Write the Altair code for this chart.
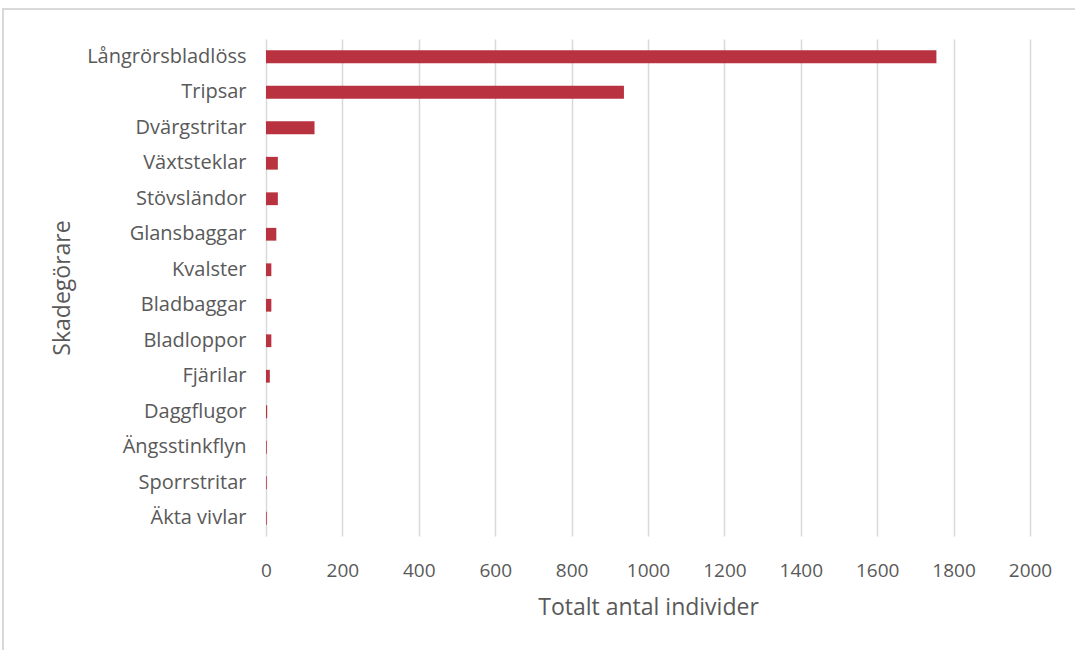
import altair as alt
import pandas as pd

# Pest groups and total counted individuals
categories = [
    "Långrörsbladlöss", "Tripsar", "Dvärgstritar", "Växtsteklar", "Stövsländor",
    "Glansbaggar", "Kvalster", "Bladbaggar", "Bladloppor", "Fjärilar",
    "Daggflugor", "Ängsstinkflyn", "Sporrstritar", "Äkta vivlar",
]
counts = [1755, 937, 127, 31, 31, 27, 14, 14, 14, 10, 3, 2, 2, 2]
x_ticks = list(range(0, 2001, 200))

df = pd.DataFrame({"Skadegörare": categories, "Antal": counts})

FONT = "Open Sans"
TEXT = "#595959"
GRID = "#d9d9d9"

bars = alt.Chart(df).mark_bar(color="#b93240").encode(
    y=alt.Y(
        "Skadegörare:N",
        sort=categories,
        scale=alt.Scale(paddingInner=0.64, paddingOuter=0.32),
        axis=alt.Axis(
            title="Skadegörare", titleFontSize=23, titleFontWeight="normal",
            titleColor=TEXT, titleFont=FONT, titlePadding=12,
            labelFontSize=20, labelColor=TEXT, labelFont=FONT, labelPadding=20,
            ticks=False, domain=False, grid=False,
        ),
    ),
    x=alt.X(
        "Antal:Q",
        scale=alt.Scale(domain=[0, 2000], nice=False),
        axis=alt.Axis(
            title="Totalt antal individer", titleFontSize=23, titleFontWeight="normal",
            titleColor=TEXT, titleFont=FONT, titlePadding=16,
            values=x_ticks, format="d", labelFlush=False,
            labelFontSize=19, labelColor=TEXT, labelFont=FONT,
            labelPadding=25, ticks=False, domain=False,
            grid=True, gridColor=GRID, gridWidth=1.5,
        ),
    ),
)

# Outer frame around the whole figure
frame = alt.Chart(df).mark_rect(
    fill=None, stroke=GRID, strokeWidth=1.5, clip=False
).encode(
    x=alt.value(-263), x2=alt.value(830),
    y=alt.value(-30), y2=alt.value(640),
)

chart = alt.layer(frame, bars).properties(
    width=764, height=497,
    autosize=alt.AutoSizeParams(type="none"),
    padding={"left": 266, "top": 39, "right": 45, "bottom": 114},
    background="white",
).configure_view(stroke=None)

chart.save("out.html", embed_options={"renderer": "svg", "actions": False})
